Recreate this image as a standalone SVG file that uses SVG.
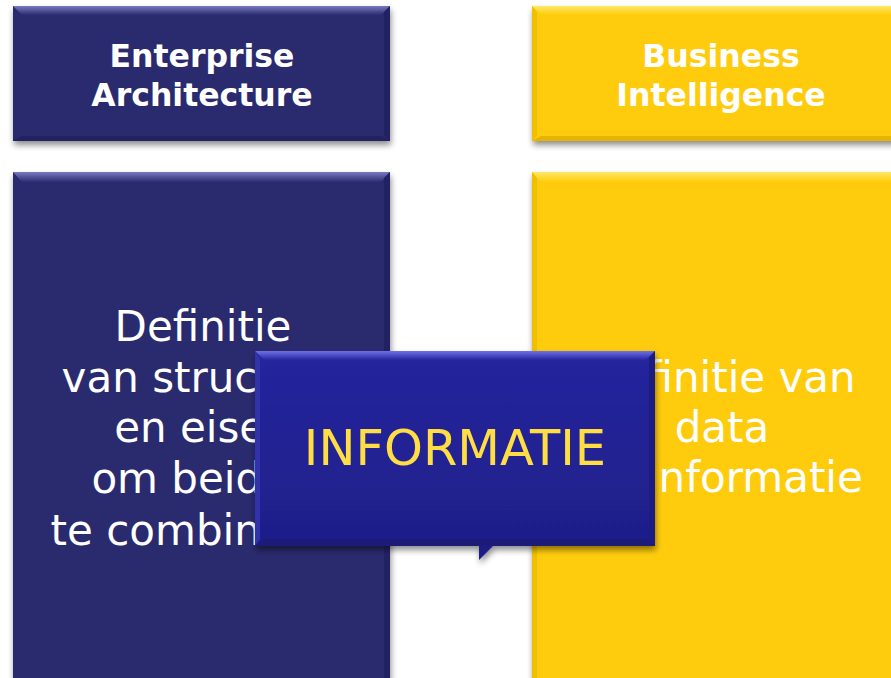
<svg xmlns="http://www.w3.org/2000/svg" width="891" height="678" viewBox="0 0 891 678">
<defs>
<filter id="sh" x="-10%" y="-10%" width="125%" height="130%">
<feGaussianBlur in="SourceAlpha" stdDeviation="3"/>
<feOffset dx="1" dy="4" result="b"/>
<feComponentTransfer><feFuncA type="linear" slope="0.45"/></feComponentTransfer>
<feMerge><feMergeNode/><feMergeNode in="SourceGraphic"/></feMerge>
</filter>
<linearGradient id="topN" x1="0" y1="0" x2="0" y2="1"><stop offset="0" stop-color="#7a7ac0"/><stop offset="1" stop-color="#2b2c72"/></linearGradient>
<linearGradient id="topY" x1="0" y1="0" x2="0" y2="1"><stop offset="0" stop-color="#ffe86a"/><stop offset="1" stop-color="#ffcc08"/></linearGradient>
<linearGradient id="topC" x1="0" y1="0" x2="0" y2="1"><stop offset="0" stop-color="#7070e8"/><stop offset="1" stop-color="#2525a0"/></linearGradient>
<linearGradient id="bodyC" x1="0" y1="0" x2="0" y2="1"><stop offset="0" stop-color="#25259e"/><stop offset="1" stop-color="#1e1e88"/></linearGradient>
</defs>
<style>
.navy{fill:#29296e}
.yel{fill:#ffcc08}
.hd{font-family:"DejaVu Sans",Verdana,sans-serif;font-weight:bold;font-size:31.5px;fill:#ffffff;text-anchor:middle}
.bd{font-family:"DejaVu Sans",Verdana,sans-serif;font-size:42px;fill:#ffffff;text-anchor:middle}
.ct{font-family:"DejaVu Sans",Verdana,sans-serif;font-size:49.5px;fill:#ffdd44;text-anchor:middle}
</style>
<rect width="891" height="678" fill="#ffffff"/>

<g id="ea-header" filter="url(#sh)">
<rect class="navy" x="13" y="6" width="377" height="135"/>
<polygon points="13,6 390,6 381,15 22,15" fill="url(#topN)"/>
<polygon points="13,141 390,141 381,136 22,136" fill="#222260"/>
<polygon points="390,6 390,141 384,136 384,12" fill="#232364"/>
</g>
<g id="bi-header" filter="url(#sh)">
<rect class="yel" x="532" y="6" width="380" height="135"/>
<polygon points="532,6 912,6 903,15 541,15" fill="url(#topY)"/>
<polygon points="532,141 912,141 903,136 541,136" fill="#e6b400"/>
<polygon points="532,6 532,141 537,136 537,12" fill="#f0bf00"/>
</g>
<g id="ea-body" filter="url(#sh)">
<rect class="navy" x="13" y="172" width="377" height="520"/>
<polygon points="13,172 390,172 381,182 22,182" fill="url(#topN)"/>
<polygon points="390,172 390,692 384,686 384,178" fill="#232364"/>
</g>
<g id="bi-body" filter="url(#sh)">
<rect class="yel" x="532" y="172" width="380" height="520"/>
<polygon points="532,172 912,172 903,182 541,182" fill="url(#topY)"/>
<polygon points="532,172 532,692 537,686 537,178" fill="#f0bf00"/>
</g>

<text class="hd" x="202" y="67">Enterprise</text>
<text class="hd" x="202" y="106">Architecture</text>
<text class="hd" x="721" y="67">Business</text>
<text class="hd" x="721" y="106">Intelligence</text>

<text class="bd" x="203" y="341">Definitie</text>
<text class="bd" x="203" y="392">van structuur</text>
<text class="bd" x="203" y="442">en eisen</text>
<text class="bd" x="203" y="493">om beiden</text>
<text class="bd" x="203" y="545">te combineren</text>

<text class="bd" x="722" y="392">Definitie van</text>
<text class="bd" x="722" y="442">data</text>
<text class="bd" x="722" y="492">en informatie</text>

<g id="connectors"></g>

<g id="informatie" filter="url(#sh)">
<path d="M255,351 H655 V546 H493 L479,560 V546 H255 Z" fill="url(#bodyC)"/>
<polygon points="255,351 655,351 646,360 264,360" fill="url(#topC)"/>
<polygon points="255,546 655,546 646,539 264,539" fill="#1a1a78"/>
<polygon points="655,351 655,546 649,539 649,358" fill="#1c1c80"/>
<polygon points="255,351 255,546 260,539 260,358" fill="#3030aa"/>
<text class="ct" x="455" y="465">INFORMATIE</text>
</g>
</svg>
